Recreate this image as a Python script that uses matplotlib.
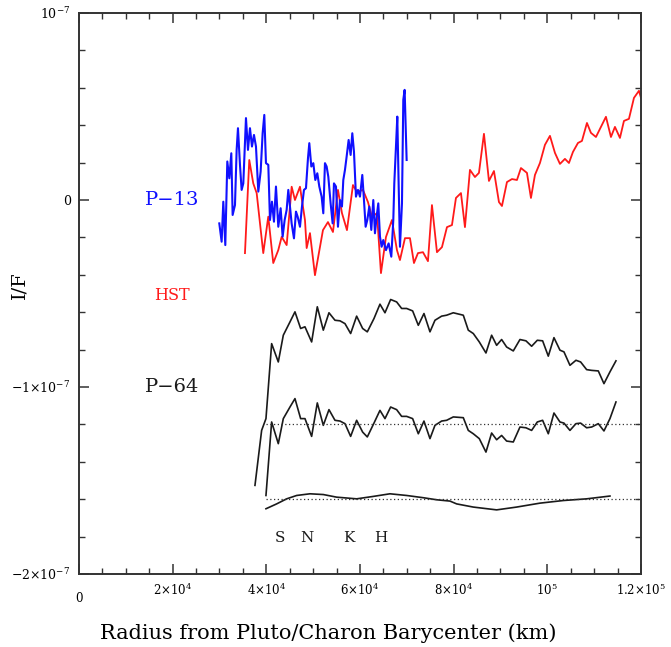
import numpy as np
import matplotlib
matplotlib.use("Agg")
import matplotlib.pyplot as plt
from matplotlib.ticker import MultipleLocator, FixedLocator

plt.rcParams['font.family'] = ['DejaVu Serif']
plt.rcParams['mathtext.fontset'] = 'dejavuserif'

# I/F values are given in units of 1e-8, radius in km
SCALE = 1e-8

# P-13 (blue)
p13_x = [29960, 30460, 30816, 31243, 31670, 32097, 32524, 32809, 33307, 33663,
         33947, 34374, 34730, 35086, 35655, 36082, 36509, 36936, 37363, 37790,
         38288, 38787, 39214, 39569, 39925, 40424, 40780, 41206, 41633, 42060,
         42558, 43057, 43484, 43911, 44338, 44694, 45050, 45405, 45904, 46331,
         46687, 47185, 47612, 48039, 48466, 48893, 49178, 49605, 50032, 50459,
         50886, 51313, 51810, 52166, 52522, 52878, 53233, 53731, 54159, 54443,
         54870, 55297, 55724, 56151, 56436, 56792, 57148, 57575, 58002, 58358,
         58713, 59140, 59567, 59995, 60493, 60849, 61205, 61560, 61987, 62414,
         62841, 63197, 63553, 63909, 64265, 64621, 64976, 65546, 66115, 66684,
         67112, 67325, 67681, 67966, 68250, 68535, 68962, 69247, 69532, 69959]
p13_y = [-1.25, -2.23, -0.09, -2.41, 2.06, 1.16, 2.50, -0.80, -0.27, 2.68,
         3.84, 1.88, 0.54, 0.89, 4.38, 2.68, 3.84, 2.86, 3.48, 2.86,
         0.45, 1.52, 3.57, 4.55, 1.97, 1.88, -1.07, -0.09, -1.16, 0.72,
         -1.43, -0.44, -1.96, -1.07, -0.53, 0.54, -0.35, -1.25, -2.05, -0.62,
         -0.89, -1.43, -0.35, 0.54, 0.63, 2.23, 3.04, 1.79, 1.97, 1.07,
         1.43, 0.72, 0.18, -0.71, 1.97, 1.79, 1.25, -0.18, -1.25, 0.89,
         0.72, -1.43, 0.00, -0.35, 1.07, 1.61, 2.32, 3.21, 2.41, 3.57,
         2.59, 0.18, 0.54, 0.18, 1.34, 0.00, -1.43, -1.07, -0.35, -1.60,
         0.00, -1.78, -0.89, -0.18, -1.96, -2.50, -2.14, -2.68, -2.32, -3.03,
         -1.07, 0.89, 2.86, 4.46, 0.89, -2.50, -0.18, 5.36, 5.89, 2.14]

# HST (red)
hst_x = [35441, 36359, 37213, 37939, 39348, 40416, 41483, 42551, 43277, 44344,
         45412, 46116, 47184, 48251, 48614, 49319, 50386, 52094, 53162, 54229,
         55297, 56151, 57218, 58499, 59353, 60634, 61702, 62556, 63623, 64477,
         65545, 66826, 67893, 68534, 69601, 70669, 71523, 72377, 73444, 74512,
         75366, 76433, 77501, 78568, 79636, 80490, 81557, 82411, 83479, 84546,
         85400, 86467, 87535, 88603, 89670, 90311, 91378, 92446, 93513, 94367,
         95648, 96502, 97356, 98424, 99491, 100559, 101626, 102694, 103761, 104615,
         105469, 106537, 107391, 108458, 109312, 110380, 111447, 112515, 113582, 114436,
         115504, 116358, 117425, 118493, 119560, 120000]
hst_y = [-2.84, 2.14, 0.89, 0.37, -2.84, -0.89, -3.37, -2.68, -1.97, -2.41,
         0.71, 0.00, 0.71, -1.07, -2.57, -1.77, -4.02, -1.61, -1.18, -1.71,
         0.54, -0.70, -1.61, 0.80, 0.43, 0.54, -0.11, -0.91, -0.70, -3.91,
         -1.98, -1.07, -2.68, -3.21, -2.04, -2.04, -3.37, -2.84, -2.79, -3.27,
         -0.27, -2.79, -2.52, -1.45, -1.34, 0.11, 0.37, -1.45, 1.61, 1.23,
         1.45, 3.54, 1.02, 1.55, -0.11, -0.32, 0.96, 1.12, 1.07, 1.71,
         1.45, 0.11, 1.34, 1.98, 2.95, 3.43, 2.52, 1.93, 2.20, 1.98,
         2.57, 3.05, 3.16, 4.12, 3.59, 3.37, 3.91, 4.45, 3.37, 3.91,
         3.32, 4.23, 4.34, 5.46, 5.84, 5.46]

# P-64 (black), three traces
p64_x = [39925, 41135, 42558, 43626, 45049, 46117, 47327, 48252, 49675, 50885,
         52166, 53376, 54657, 55725, 56793, 58003, 59283, 60564, 61561, 62984,
         64265, 65333, 66543, 67824, 68892, 69959, 71240, 72450, 73661, 74942,
         76009, 77433, 78497, 79921, 82056, 83123, 84191, 85472, 86895, 88105,
         89173, 90241, 91308, 92731, 94155, 95436, 96646, 97856, 98994, 100204,
         101414, 102695, 103549, 104830, 106111, 107108, 108389, 109457, 110880, 112090,
         113371, 114652]
p64_top_y = [-11.69, -7.68, -8.66, -7.23, -6.52, -5.98, -6.87, -6.78, -7.59, -5.71,
             -6.96, -6.03, -6.43, -6.46, -6.61, -7.14, -6.21, -6.87, -7.05, -6.34,
             -5.57, -6.03, -5.32, -5.45, -5.80, -5.80, -5.93, -6.70, -6.07, -7.05,
             -6.43, -6.21, -6.16, -6.03, -6.16, -6.96, -7.14, -7.59, -8.18, -7.23,
             -7.77, -7.46, -7.86, -8.07, -7.46, -7.53, -7.82, -7.50, -7.53, -8.35,
             -7.36, -8.03, -8.12, -8.84, -8.57, -8.66, -9.07, -9.11, -9.14, -9.82,
             -9.19, -8.60]
p64_top_start_x = [37577, 38999]
p64_top_start_y = [-15.26, -12.32]
p64_mid_y = [-15.80, -11.87, -13.03, -11.69, -11.07, -10.62, -11.69, -11.69, -12.64, -10.85,
             -12.05, -11.21, -11.78, -11.82, -11.96, -12.64, -11.78, -12.41, -12.67, -11.93,
             -11.25, -11.69, -11.07, -11.21, -11.57, -11.57, -11.69, -12.50, -11.82, -12.76,
             -12.05, -11.82, -11.78, -11.60, -11.64, -12.32, -12.50, -12.76, -13.48, -12.46,
             -12.82, -12.59, -12.89, -12.94, -12.14, -12.18, -12.32, -11.87, -11.78, -12.50,
             -11.39, -11.87, -11.93, -12.32, -11.96, -11.93, -12.18, -12.14, -11.96, -12.35,
             -11.69, -10.80]
smooth_x = [39925, 42203, 44338, 46473, 49320, 52166, 55013, 59283, 62842, 66400,
            69959, 73518, 76364, 79212, 80633, 84191, 89173, 93443, 98425, 103407,
            108389, 113371]
smooth_y = [-16.51, -16.25, -15.98, -15.80, -15.71, -15.75, -15.89, -15.98, -15.85, -15.71,
            -15.80, -15.92, -16.03, -16.10, -16.25, -16.42, -16.57, -16.42, -16.21, -16.07,
            -15.98, -15.83]
baseline_y = [-12.0, -16.0]
baseline_x0, baseline_x1 = 40000, 120000

moon_names = ['S', 'N', 'K', 'H']
moon_x = [42900, 48700, 57650, 64500]
moon_y = -18.05

fig = plt.figure(figsize=(6.71, 6.47), dpi=100)
ax = fig.add_axes([0.1177, 0.1128, 0.8376, 0.8671])

S = SCALE
ax.plot(hst_x, np.array(hst_y) * S, color='#ff1a1a', lw=1.3)
ax.plot(p13_x, np.array(p13_y) * S, color='#1010ff', lw=1.5)
ax.plot(p64_top_start_x + p64_x, np.array(p64_top_start_y + p64_top_y) * S,
        color='#1a1a1a', lw=1.2)
ax.plot(p64_x, np.array(p64_mid_y) * S, color='#1a1a1a', lw=1.2)
ax.plot(smooth_x, np.array(smooth_y) * S, color='#1a1a1a', lw=1.2)
for b in baseline_y:
    ax.plot([baseline_x0, baseline_x1], [b * S, b * S], color='#333333',
            lw=0.9, linestyle=(0, (1, 2)))

ax.text(19856, 0, 'P\u221213', color='#1010ff', fontsize=14, ha='center', va='center')
ax.text(19856, -5.09 * S, 'HST', color='#ff1a1a', fontsize=11.5, ha='center', va='center')
ax.text(19856, -10.0 * S, 'P\u221264', color='#1a1a1a', fontsize=14, ha='center', va='center')
for name, mx in zip(moon_names, moon_x):
    ax.text(mx, moon_y * S, name, fontsize=11, ha='center', va='center', color='#1a1a1a')

ax.set_xlim(0, 1.2e5)
ax.set_ylim(-2e-7, 1e-7)

xt = [0, 2e4, 4e4, 6e4, 8e4, 1e5, 1.2e5]
xt_labels = ['0', r'$2{\times}10^4$', r'$4{\times}10^4$', r'$6{\times}10^4$',
             r'$8{\times}10^4$', r'$10^5$', r'$1.2{\times}10^5$']
ax.xaxis.set_major_locator(FixedLocator(xt))
ax.set_xticklabels(xt_labels, fontsize=8.5)
ax.xaxis.set_minor_locator(MultipleLocator(5000))
# the zero label sits a bit lower than the rest
ax.get_xticklabels()[0].set_y(-0.018)

yt = [-2e-7, -1e-7, 0, 1e-7]
yt_labels = [r'$-2{\times}10^{-7}$', r'$-1{\times}10^{-7}$', '0', r'$10^{-7}$']
ax.yaxis.set_major_locator(FixedLocator(yt))
ax.set_yticklabels(yt_labels, fontsize=9)
ax.yaxis.set_minor_locator(MultipleLocator(2e-8))

ax.tick_params(which='both', direction='in', top=True, right=True, color='#333333')
ax.tick_params(which='major', length=7, width=1.1, pad=6)
ax.tick_params(which='minor', length=4, width=1.0)
for sp in ax.spines.values():
    sp.set_linewidth(1.4)
    sp.set_color('#333333')

ax.set_xlabel('Radius from Pluto/Charon Barycenter (km)', fontsize=15)
ax.xaxis.set_label_coords(0.443, -0.088)
ax.set_ylabel('I/F', fontsize=14)
ax.yaxis.set_label_coords(-0.09, 0.515)

fig.savefig('out.png', dpi=100)
